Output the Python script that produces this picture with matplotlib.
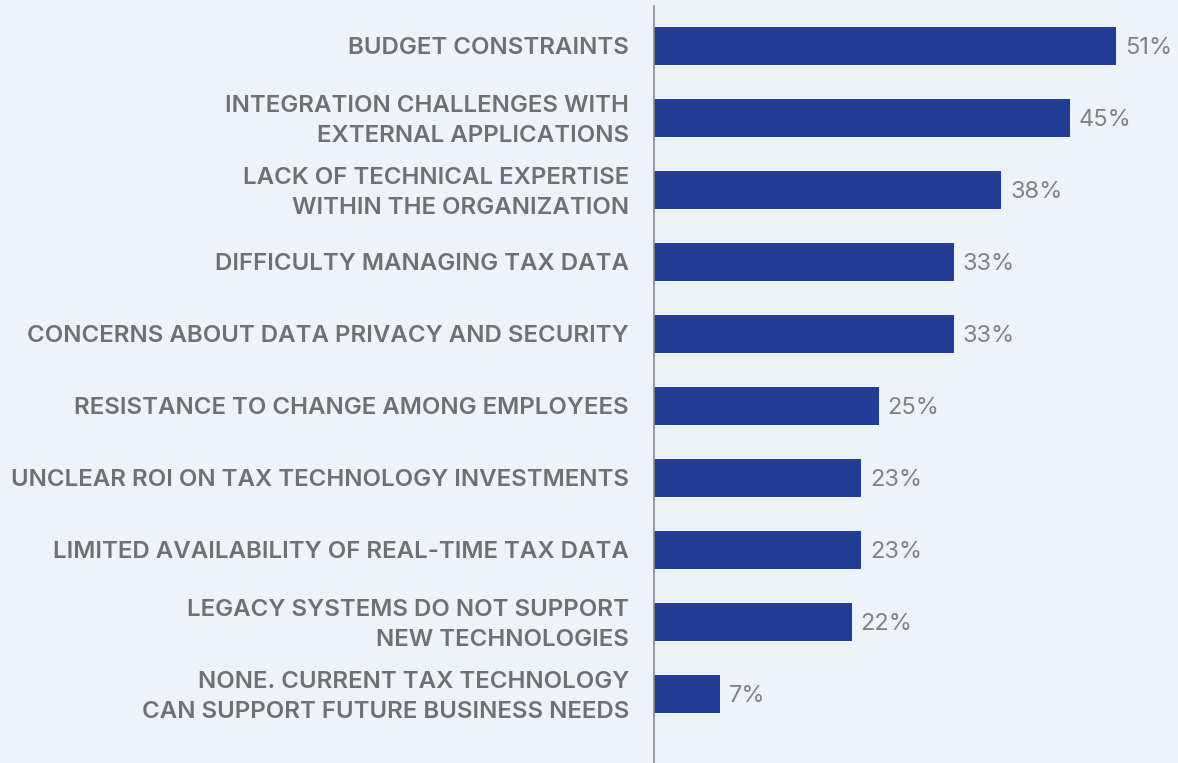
import matplotlib.pyplot as plt
from matplotlib.transforms import ScaledTranslation

# chart data
categories = [
    "BUDGET CONSTRAINTS",
    "INTEGRATION CHALLENGES WITH\nEXTERNAL APPLICATIONS",
    "LACK OF TECHNICAL EXPERTISE\nWITHIN THE ORGANIZATION",
    "DIFFICULTY MANAGING TAX DATA",
    "CONCERNS ABOUT DATA PRIVACY AND SECURITY",
    "RESISTANCE TO CHANGE AMONG EMPLOYEES",
    "UNCLEAR ROI ON TAX TECHNOLOGY INVESTMENTS",
    "LIMITED AVAILABILITY OF REAL-TIME TAX DATA",
    "LEGACY SYSTEMS DO NOT SUPPORT\nNEW TECHNOLOGIES",
    "NONE. CURRENT TAX TECHNOLOGY\nCAN SUPPORT FUTURE BUSINESS NEEDS",
]
values = [51.0, 45.9, 38.3, 33.1, 33.1, 24.8, 22.9, 22.9, 21.8, 7.3]
value_labels = ["51%", "45%", "38%", "33%", "33%", "25%", "23%", "23%", "22%", "7%"]

bg = "#EEF2F9"
bar_color = "#233D96"

plt.rcParams['font.family'] = ['Inter', 'DejaVu Sans']

fig = plt.figure(figsize=(11.78, 7.63), dpi=100)
fig.set_facecolor(bg)
ax = fig.add_axes([654 / 1178, 0, 524 / 1178, 1 - 6 / 763])
ax.set_facecolor(bg)

ypos = list(range(len(categories)))
ax.barh(ypos, values, height=0.54, color=bar_color, zorder=2)

ax.set_xlim(0, 524 / 9.06)
ax.set_ylim(9 + 69 / 72, -40 / 72)

for y, v, lab in zip(ypos, values, value_labels):
    ax.text(v + 1.0, y + 0.03, lab, va="center", ha="left", fontsize=17,
            color="#828282")

ax.set_yticks(ypos)
ax.set_yticklabels(categories, fontsize=17.3, fontweight="semibold",
                   color="#6F7072", linespacing=1.5)
ax.tick_params(axis="y", length=0, pad=18)
ax.set_xticks([])

# two-line labels sit a little high in the original
for t in ax.get_yticklabels():
    if "\n" in t.get_text():
        t.set_transform(t.get_transform() + ScaledTranslation(0, 0.04, fig.dpi_scale_trans))

for s in ["top", "right", "bottom"]:
    ax.spines[s].set_visible(False)
ax.spines["left"].set_color("#8A8A8A")
ax.spines["left"].set_linewidth(1.2)

fig.savefig("out.png", dpi=100, facecolor=bg)
